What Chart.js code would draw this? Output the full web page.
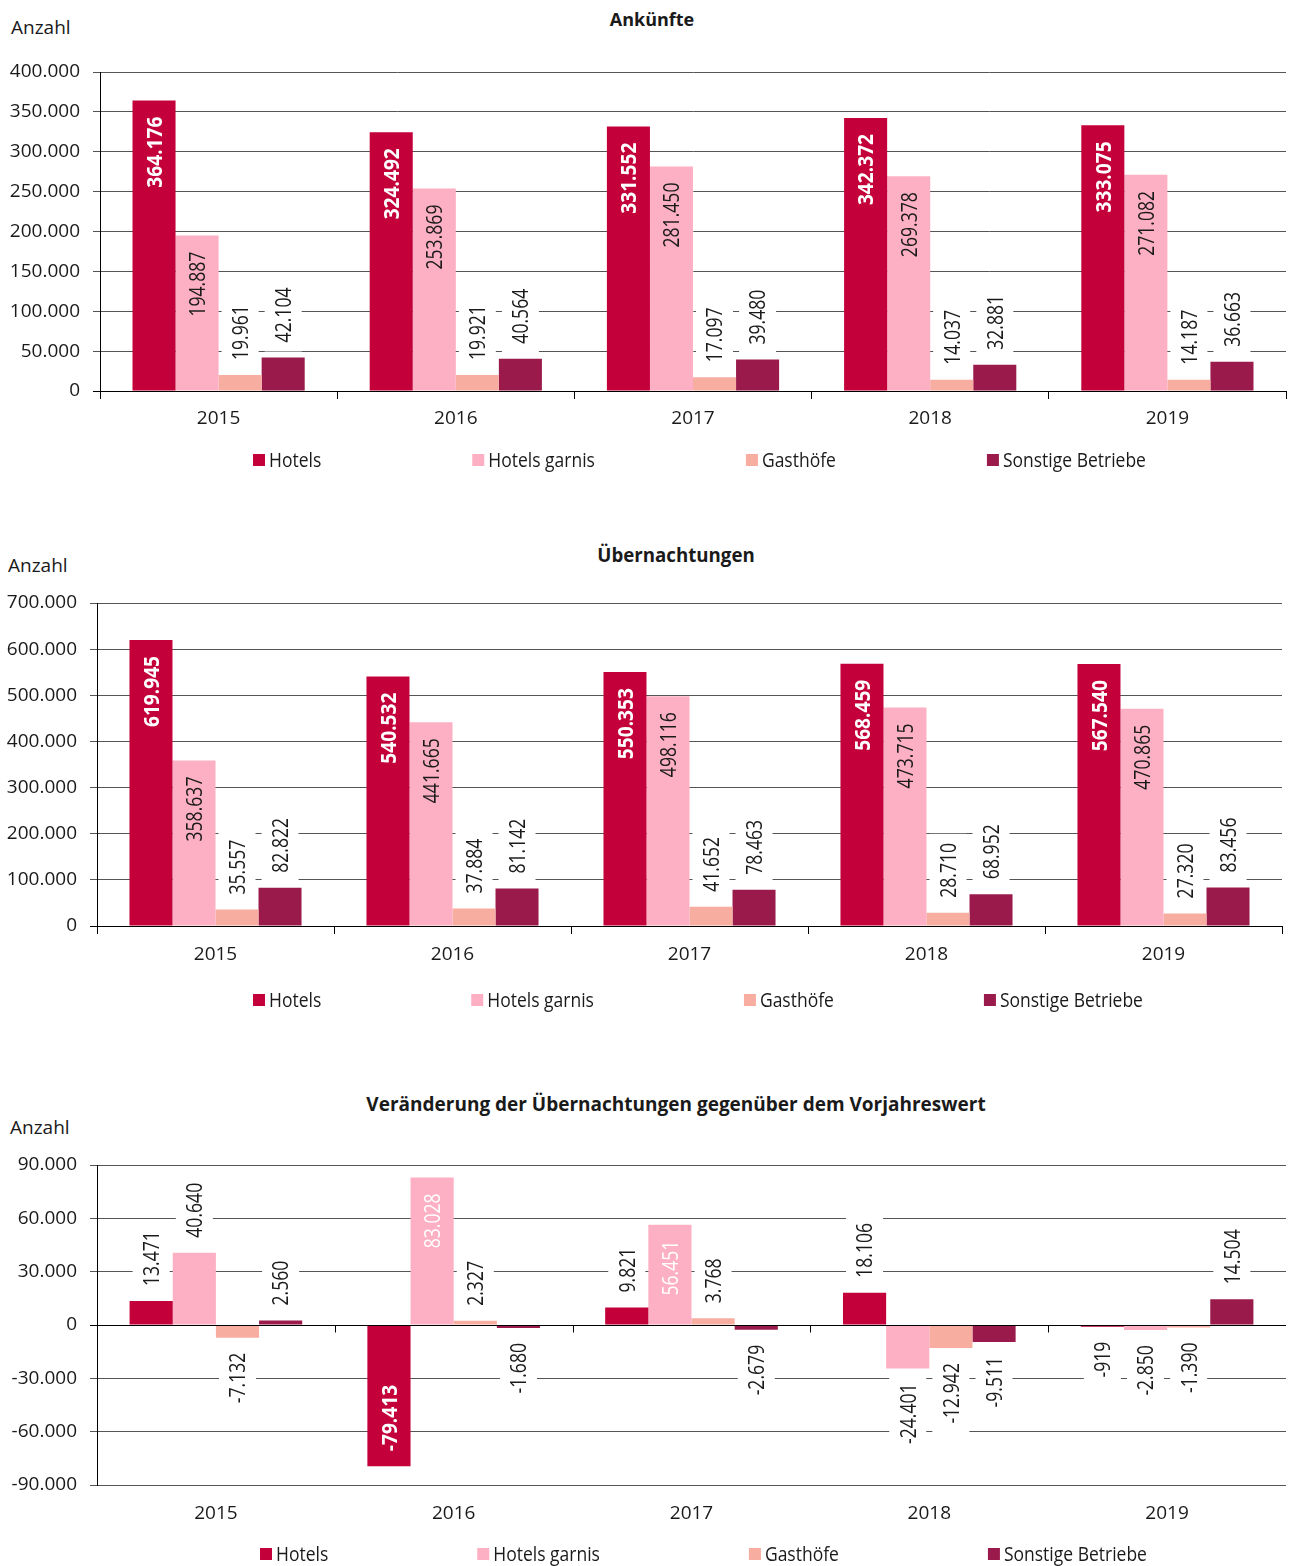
<!DOCTYPE html>
<html lang="de">
<head>
<meta charset="utf-8">
<title>Ankünfte und Übernachtungen nach Betriebsart 2015–2019</title>
<script src="https://cdn.jsdelivr.net/npm/chart.js@4.4.1/dist/chart.umd.min.js"></script>
<style>
  html, body { margin: 0; padding: 0; background: #fff; }
  body { width: 1289px; height: 1566px; position: relative; overflow: hidden;
         font-family: "Open Sans", sans-serif; color: #1a1a1a; }
  canvas { position: absolute; left: 0; }
  .ttl { position: absolute; font-weight: bold; line-height: 24px;
         white-space: nowrap; transform: translateX(-50%); }
  .unit { position: absolute; font-size: 19px; line-height: 24px; white-space: nowrap; }
</style>
</head>
<body>
<div class="ttl" style="left:652px;top:7px;font-size:18px">Ankünfte</div>
<div class="unit" style="left:11px;top:15px">Anzahl</div>
<canvas id="c1" width="1289" height="490" style="top:0"></canvas>

<div class="ttl" style="left:676px;top:543px;font-size:18.7px">Übernachtungen</div>
<div class="unit" style="left:8px;top:553px">Anzahl</div>
<canvas id="c2" width="1289" height="540" style="top:500px"></canvas>

<div class="ttl" style="left:676px;top:1092px;font-size:19px">Veränderung der Übernachtungen gegenüber dem Vorjahreswert</div>
<div class="unit" style="left:10px;top:1115px">Anzahl</div>
<canvas id="c3" width="1289" height="506" style="top:1060px"></canvas>

<script>
// ---- categories and series ----
const years = ['2015', '2016', '2017', '2018', '2019'];
const seriesNames = ['Hotels', 'Hotels garnis', 'Gasthöfe', 'Sonstige Betriebe'];
const seriesColors = ['#c3003a', '#fdafc4', '#f7ad9f', '#9a1b4b'];

// Ankünfte
const arrivalsHotels   = [364176, 324492, 331552, 342372, 333075];
const arrivalsGarnis   = [194887, 253869, 281450, 269378, 271082];
const arrivalsGasthoefe = [19961, 19921, 17097, 14037, 14187];
const arrivalsSonstige = [42104, 40564, 39480, 32881, 36663];

// Übernachtungen
const nightsHotels   = [619945, 540532, 550353, 568459, 567540];
const nightsGarnis   = [358637, 441665, 498116, 473715, 470865];
const nightsGasthoefe = [35557, 37884, 41652, 28710, 27320];
const nightsSonstige = [82822, 81142, 78463, 68952, 83456];

// Veränderung der Übernachtungen gegenüber dem Vorjahr
const changeHotels   = [13471, -79413, 9821, 18106, -919];
const changeGarnis   = [40640, 83028, 56451, -24401, -2850];
const changeGasthoefe = [-7132, 2327, 3768, -12942, -1390];
const changeSonstige = [2560, -1680, -2679, -9511, 14504];

// y-axis tick values
const arrivalsTicks = [0, 50000, 100000, 150000, 200000, 250000, 300000, 350000, 400000];
const nightsTicks = [0, 100000, 200000, 300000, 400000, 500000, 600000, 700000];
const changeTicks = [-90000, -60000, -30000, 0, 30000, 60000, 90000];

// ---- helpers ----
const FONT = '"Open Sans", sans-serif';
Chart.defaults.font.family = FONT;
Chart.defaults.color = '#1a1a1a';

function fmt(v) {
  const s = Math.abs(Math.round(v)).toString().replace(/\B(?=(\d{3})+(?!\d))/g, '.');
  return (v < 0 ? '-' : '') + s;
}

// rotated value labels, inside the bar end for large values, outside otherwise
const valueLabels = {
  id: 'valueLabels',
  afterDatasetsDraw(chart, args, o) {
    const ctx = chart.ctx;
    const size = 22;
    chart.data.datasets.forEach((ds, di) => {
      const meta = chart.getDatasetMeta(di);
      meta.data.forEach((bar, i) => {
        const v = ds.data[i];
        const inside = Math.abs(v) >= o.insideMin;
        const st = inside ? o.inside[di] : { color: '#1a1a1a', bold: false };
        const sx = st.bold ? 0.87 : 0.8;
        const txt = fmt(v);
        ctx.save();
        ctx.font = (st.bold ? 'bold ' : '') + size + 'px ' + FONT;
        const len = ctx.measureText(txt).width * sx;
        let top, bottom;
        if (v >= 0) {
          if (inside) { top = bar.y + 16; bottom = top + len; }
          else { bottom = bar.y - 15; top = bottom - len; }
        } else {
          if (inside) { bottom = bar.y - 15; top = bottom - len; }
          else { top = bar.y + 15; bottom = top + len; }
        }
        if (!inside) {
          ctx.fillStyle = '#ffffff';
          ctx.fillRect(bar.x - 18.5, top - 9, 37, len + 18);
        }
        ctx.translate(bar.x, bottom);
        ctx.rotate(-Math.PI / 2);
        ctx.scale(sx, 1);
        ctx.textAlign = 'left';
        ctx.textBaseline = 'alphabetic';
        ctx.fillStyle = st.color;
        ctx.fillText(txt, 0, size * 0.357);
        ctx.restore();
      });
    });
  }
};

// one-row legend below the chart
const rowLegend = {
  id: 'rowLegend',
  afterDraw(chart, args, o) {
    const ctx = chart.ctx;
    ctx.save();
    ctx.font = '20px ' + FONT;
    ctx.textBaseline = 'middle';
    ctx.textAlign = 'left';
    let x = o.x;
    chart.data.datasets.forEach(ds => {
      ctx.fillStyle = ds.backgroundColor;
      ctx.fillRect(x, o.y - 6, 12, 12);
      const tx = x + 16;
      ctx.save();
      ctx.translate(tx, o.y);
      ctx.scale(o.sx, 1);
      ctx.fillStyle = '#1a1a1a';
      ctx.fillText(ds.label, 0, 1);
      ctx.restore();
      x = tx + ctx.measureText(ds.label).width * o.sx + o.gap;
    });
    ctx.restore();
  }
};

// zero line with category separators (change chart)
const zeroAxis = {
  id: 'zeroAxis',
  afterDatasetsDraw(chart, args, o) {
    if (!o.enabled) return;
    const ctx = chart.ctx;
    const xs = chart.scales.x, ys = chart.scales.y;
    const y0 = Math.round(ys.getPixelForValue(0)) + 0.5;
    ctx.save();
    ctx.strokeStyle = '#000';
    ctx.lineWidth = 1;
    ctx.beginPath();
    ctx.moveTo(chart.chartArea.left, y0);
    ctx.lineTo(chart.chartArea.right, y0);
    for (let i = 0; i < years.length - 1; i++) {
      const bx = Math.round((xs.getPixelForValue(i) + xs.getPixelForValue(i + 1)) / 2) + 0.5;
      ctx.moveTo(bx, y0);
      ctx.lineTo(bx, y0 + 7);
    }
    ctx.stroke();
    ctx.restore();
  }
};

function makeDatasets(values) {
  return values.map((d, i) => ({
    label: seriesNames[i],
    data: d,
    backgroundColor: seriesColors[i],
    borderWidth: 0,
    categoryPercentage: 0.726,
    barPercentage: 1.0
  }));
}

function makeChart(id, cfg) {
  return new Chart(document.getElementById(id), {
    type: 'bar',
    data: { labels: years, datasets: makeDatasets(cfg.values) },
    plugins: [valueLabels, rowLegend, zeroAxis],
    options: {
      responsive: false,
      animation: false,
      events: [],
      layout: { padding: { top: cfg.top, right: cfg.right, bottom: cfg.bottom, left: 0 } },
      plugins: {
        legend: { display: false },
        tooltip: { enabled: false },
        title: { display: false },
        valueLabels: { insideMin: cfg.insideMin, inside: cfg.inside },
        rowLegend: cfg.legend,
        zeroAxis: { enabled: !!cfg.zero }
      },
      scales: {
        x: {
          afterFit: s => { s.height = 40; },
          grid: cfg.zero
            ? { display: false, offset: true }
            : { display: true, offset: true, drawOnChartArea: false, drawTicks: true, tickLength: 8, color: '#000' },
          border: cfg.zero ? { display: false } : { display: true, color: '#000', width: 1 },
          ticks: { font: { size: 19 }, color: '#1a1a1a', padding: cfg.xPad, maxRotation: 0 }
        },
        y: {
          min: cfg.ticks[0],
          max: cfg.ticks[cfg.ticks.length - 1],
          afterFit: s => { s.width = cfg.left; },
          afterBuildTicks: s => { s.ticks = cfg.ticks.map(v => ({ value: v })); },
          grid: {
            color: ctx => (ctx.tick && ctx.tick.value === 0) ? '#000' : '#555',
            lineWidth: 1,
            drawTicks: true,
            tickLength: 7
          },
          border: { display: true, color: '#000', width: 1 },
          ticks: { font: { size: 19 }, color: '#1a1a1a', padding: 13, callback: v => fmt(v) }
        }
      }
    }
  });
}

const insideDark = [{ color: '#ffffff', bold: true }, { color: '#1a1a1a', bold: false }, { color: '#1a1a1a', bold: false }, { color: '#ffffff', bold: false }];
const insideLight = [{ color: '#ffffff', bold: true }, { color: '#ffffff', bold: false }, { color: '#1a1a1a', bold: false }, { color: '#ffffff', bold: false }];

makeChart('c1', {
  values: [arrivalsHotels, arrivalsGarnis, arrivalsGasthoefe, arrivalsSonstige],
  ticks: arrivalsTicks,
  top: 72, bottom: 59, right: 3, left: 100, xPad: 8,
  insideMin: 100000, inside: insideDark,
  legend: { x: 253, y: 460, gap: 151, sx: 0.875 }
});

makeChart('c2', {
  values: [nightsHotels, nightsGarnis, nightsGasthoefe, nightsSonstige],
  ticks: nightsTicks,
  top: 103, bottom: 74, right: 7, left: 97, xPad: 9,
  insideMin: 100000, inside: insideDark,
  legend: { x: 253, y: 500, gap: 150, sx: 0.875 }
});

makeChart('c3', {
  values: [changeHotels, changeGarnis, changeGasthoefe, changeSonstige],
  ticks: changeTicks,
  top: 105, bottom: 41, right: 3, left: 97, xPad: 9,
  insideMin: 50000, inside: insideLight,
  legend: { x: 260, y: 494, gap: 149, sx: 0.875 },
  zero: true
});
</script>
</body>
</html>
